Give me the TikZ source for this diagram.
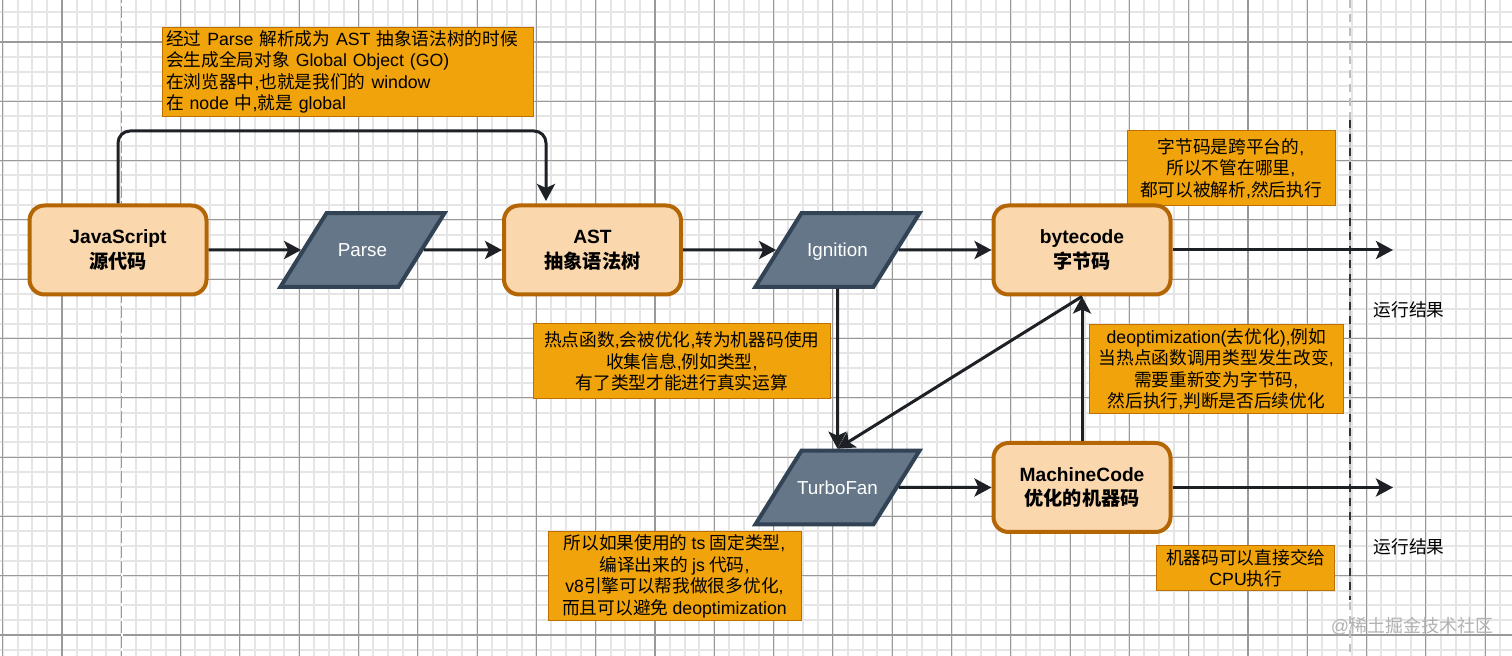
\documentclass[tikz,border=0pt]{standalone}
\usepackage{fontspec}
\setmainfont[WordSpace=0.85]{Liberation Sans}
\newfontfamily\cjk{Noto Sans CJK SC}
\usetikzlibrary{arrows.meta, shapes.geometric}
\definecolor{myfill}{RGB}{250, 215, 172}
\definecolor{myedge}{RGB}{180, 101, 4}
\definecolor{myslate}{RGB}{100, 118, 135}
\definecolor{myslateedge}{RGB}{49, 67, 84}
\definecolor{mynote}{RGB}{240, 163, 10}
\definecolor{mynoteedge}{RGB}{189, 112, 0}
\definecolor{myink}{RGB}{29, 33, 38}
\newcommand{\zh}[1]{{\cjk #1}}
\tikzset{
  >={Stealth[length=8.5pt,width=9pt,inset=2pt]},
  minorgrid/.style = {draw=black!10, line width=1pt},
  majorgrid/.style = {draw=black!40, line width=0.55pt},
  stage/.style = {rectangle, rounded corners=7.5pt, draw=myedge, fill=myfill, line width=2pt,
    minimum width=88.5pt, minimum height=44.5pt, align=center, font=\fontsize{9.6}{12.5}\selectfont\bfseries},
  engine/.style = {trapezium, trapezium left angle=58, trapezium right angle=122,
    draw=myslateedge, fill=myslate, line width=2pt, text=white, text width=46pt, align=center,
    text height=8pt, text depth=1pt, inner xsep=-5pt, inner ysep=13.9pt, font=\fontsize{9.4}{11}\selectfont},
  note/.style = {rectangle, draw=mynoteedge, fill=mynote, line width=0.5pt, inner sep=0pt, align=center,
    font=\fontsize{8.85}{10.7}\selectfont},
  result/.style = {font=\fontsize{8.85}{10.7}\selectfont},
  conn/.style = {->, draw=myink, line width=1.5pt}
}
\begin{document}
\begin{tikzpicture}[x=0.5pt, y=-0.5pt]
\useasboundingbox (0,0) rectangle (1512,656);
\fill[white] (0,0) rectangle (1512,656);
\begin{scope}
\clip (0,0) rectangle (1512,656);
% grid
\foreach \i [evaluate=\i as \x using 2.7+14.825*\i] in {0,...,102}
  \draw[minorgrid] (\x,0) -- (\x,656);
\foreach \i [evaluate=\i as \y using 42+14.825*(\i-3)] in {0,...,44}
  \draw[minorgrid] (0,\y) -- (1512,\y);
\foreach \i [evaluate=\i as \x using 2.7+59.3*\i] in {0,...,25}
  \draw[majorgrid] (\x,0) -- (\x,656);
\foreach \i [evaluate=\i as \y using 42+59.3*(\i-1)] in {0,...,11}
  \draw[majorgrid] (0,\y) -- (1512,\y);
\draw[white, line width=1pt, dash pattern=on 1.5pt off 6pt] (121.7,3) -- (121.7,656);
% page break
\draw[black!25, line width=0.7pt, dash pattern=on 4pt off 3pt] (1350,0) -- (1350,656);
\draw[black!80, line width=0.7pt, dash pattern=on 4pt off 3pt] (1350,120) -- (1350,600);
\end{scope}

% notes
\node[note, minimum width=185.5pt, minimum height=44.7pt, text width=182pt, align=left] (noteglobal) at (348,72) {\zh{经过} Parse \zh{解析成为} AST \zh{抽象语法树的时候}\\ \zh{会生成全局对象} Global Object (GO)\\ \zh{在浏览器中},\zh{也就是我们的} window\\ \zh{在} node \zh{中},\zh{就是} global};
\node[note, minimum width=104pt, minimum height=37.5pt] (notebyte) at (1231,168.5) {\zh{字节码是跨平台的},\\ \zh{所以不管在哪里},\\ \zh{都可以被解析},\zh{然后执行}};
\node[note, minimum width=126.7pt, minimum height=44.8pt] (notedeopt) at (1216.3,369) {deoptimization(\zh{去优化}),\zh{例如}\\ \zh{当热点函数调用类型发生改变},\\ \zh{需要重新变为字节码},\\ \zh{然后执行},\zh{判断是否后续优化}};
\node[note, minimum width=148.8pt, minimum height=37.3pt] (notehot) at (681.8,361.3) {\zh{热点函数},\zh{会被优化},\zh{转为机器码使用}\\ \zh{收集信息},\zh{例如类型},\\ \zh{有了类型才能进行真实运算}};
\node[note, minimum width=126.5pt, minimum height=44.7pt] (notets) at (674.5,576.3) {\zh{所以如果使用的} ts \zh{固定类型},\\ \zh{编译出来的} js \zh{代码},\\ v8\zh{引擎可以帮我做很多优化},\\ \zh{而且可以避免} deoptimization};
\node[note, minimum width=89pt, minimum height=22.5pt] (notemachine) at (1245.8,568.5) {\zh{机器码可以直接交给}\\ CPU\zh{执行}};

% stages
\node[stage] (js) at (118,250) {JavaScript\\ \zh{源代码}};
\node[stage] (ast) at (592.5,250) {AST\\ \zh{抽象语法树}};
\node[stage] (bytecode) at (1082,250) {bytecode\\ \zh{字节码}};
\node[stage] (machine) at (1082,487.5) {MachineCode\\ \zh{优化的机器码}};
\node[engine] (parse) at (362.5,250) {Parse};
\node[engine] (ignition) at (837.5,250) {Ignition};
\node[engine] (turbofan) at (837.5,487.5) {TurboFan};

\node[result] (resulta) at (1409,310) {\zh{运行结果}};
\node[result] (resultb) at (1409,547) {\zh{运行结果}};
\node[text=black!30, font=\fontsize{9}{11}\selectfont] (mark) at (1412,626) {@\zh{稀土掘金技术社区}};

\coordinate (bend) at (546,131);
\coordinate (astin) at (546,201);
\coordinate (byteout) at (1393,250);
\coordinate (machineout) at (1393,487.5);

% connectors
\draw[conn, rounded corners=6pt] (js.north) |- (bend) -- (astin);
\draw[conn] (js) -- (parse);
\draw[conn] (parse) -- (ast);
\draw[conn] (ast) -- (ignition);
\draw[conn] (ignition) -- (bytecode);
\draw[conn] (bytecode) -- (byteout);
\draw[conn] (ignition) -- (turbofan);
\draw[conn] (bytecode.south) -- (turbofan.north);
\draw[conn] (machine) -- (bytecode);
\draw[conn] (turbofan) -- (machine);
\draw[conn] (machine) -- (machineout);
\end{tikzpicture}
\end{document}
